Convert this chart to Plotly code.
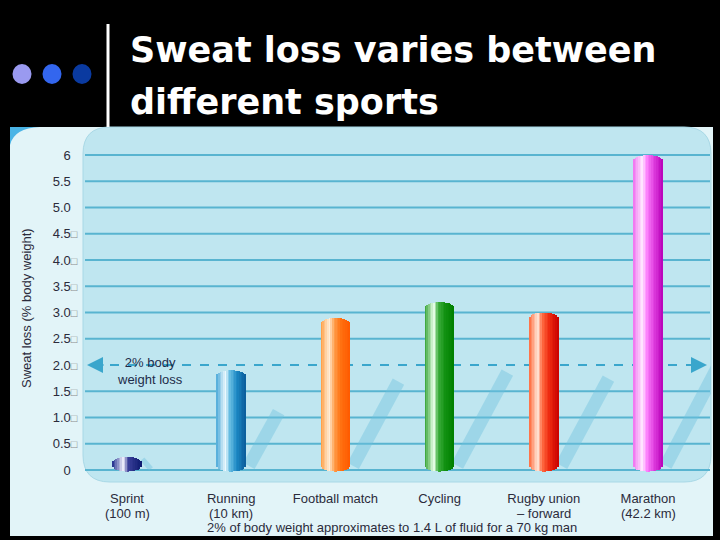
import math
import plotly.graph_objects as go

# ---------------- data ----------------
categories = ["Sprint<br>(100 m)", "Running<br>(10 km)", "Football match",
              "Cycling", "Rugby union<br>\u2013 forward", "Marathon<br>(42.2 km)"]
sweat_loss = [0.25, 1.9, 2.9, 3.2, 3.0, 6.0]
y_tick_values = [0, 0.5, 1.0, 1.5, 2.0, 2.5, 3.0, 3.5, 4.0, 4.5, 5.0, 5.5, 6]
y_tick_numbers = ["0", "0.5", "1.0", "1.5", "2.0", "2.5", "3.0", "3.5", "4.0", "4.5", "5.0", "5.5", "6"]
y_tick_has_box = [False, True, True, True, True, True, True, True, True, True, False, False, False]
threshold_value = 2.0
threshold_label = "2% body<br>weight loss"
y_title = "Sweat loss (% body weight)"
footnote = "2% of body weight approximates to 1.4 L of fluid for a 70 kg man"
title_lines = ["Sweat loss varies between", "different sports"]

# ---------------- styles ----------------
bar_gradients = [
    [(0, "#1c2a8c"), (0.38, "#f4f4ff"), (0.55, "#3a3f9a"), (1, "#0d1a6e")],
    [(0, "#4aa8d8"), (0.3, "#f0fbff"), (0.45, "#6cc0e4"), (0.7, "#1c88c4"), (1, "#0a5c9a")],
    [(0, "#ff9a3c"), (0.3, "#fff0dc"), (0.45, "#ffa050"), (0.7, "#ff7010"), (1, "#ff5a00")],
    [(0, "#2fa02f"), (0.3, "#e8ffe8"), (0.45, "#40b040"), (0.7, "#109010"), (1, "#008000")],
    [(0, "#ff6a3c"), (0.3, "#ffe4d4"), (0.45, "#ff6a40"), (0.7, "#ee2a10"), (1, "#c80000")],
    [(0, "#f070f0"), (0.3, "#ffe8ff"), (0.45, "#ff88ff"), (0.7, "#e040e0"), (1, "#b800b8")],
]
BAR_W = 0.28
N_STRIPES = 18
CAP = 0.12
TEXT = "#2b2b3b"
FONT = "Liberation Sans, Arial, sans-serif"

# plot-area geometry (pixels)
L, R, T, B = 83, 711, 127, 482
W_PX, H_PX = 720, 540


def xp(px):
    return (px - L) / (R - L)


def yp(py):
    return (B - py) / (B - T)


def hex2rgb(h):
    h = h.lstrip("#")
    return tuple(int(h[i:i + 2], 16) for i in (0, 2, 4))


def grad(stops, t):
    for (t0, c0), (t1, c1) in zip(stops, stops[1:]):
        if t0 <= t <= t1:
            f = (t - t0) / (t1 - t0) if t1 > t0 else 0
            a, b = hex2rgb(c0), hex2rgb(c1)
            return "rgb(%d,%d,%d)" % tuple(round(a[i] + (b[i] - a[i]) * f) for i in range(3))
    return stops[-1][1]


fig = go.Figure()
xs = list(range(len(categories)))
sw = BAR_W / N_STRIPES
for k in range(N_STRIPES):
    t = (k + 0.5) / N_STRIPES
    u = 2 * t - 1
    drop = CAP * (1 - math.sqrt(max(0.0, 1 - u * u)))
    bases = [-0.03 + drop for v in sweat_loss]
    tops = [v - drop for v in sweat_loss]
    heights = [max(0.0, tp - bs) for tp, bs in zip(tops, bases)]
    fig.add_trace(go.Bar(
        x=xs, y=heights, base=bases,
        width=sw * 1.25, offset=-BAR_W / 2 + k * sw - sw * 0.125,
        marker=dict(color=[grad(g, t) for g in bar_gradients], line=dict(width=0)),
        showlegend=False, hoverinfo="skip"))

shapes = []
# outer light panel
shapes.append(dict(type="rect", xref="paper", yref="paper",
                   x0=xp(10), x1=xp(713), y0=yp(536), y1=yp(127),
                   fillcolor="#e2f4f8", line=dict(width=0), layer="below"))
shapes.append(dict(type="path", xref="paper", yref="paper",
                   path="M %f %f L %f %f Q %f %f %f %f L %f %f Z" % (
                       xp(10), yp(127), xp(40), yp(127), xp(14), yp(128), xp(10), yp(145),
                       xp(10), yp(127)),
                   fillcolor="#4ab4e6", line=dict(width=0), layer="below"))
# inner rounded panel
rx, ry = 27, 27
x0, x1, y0, y1 = L, R, T, B
path = ("M %f %f L %f %f Q %f %f %f %f L %f %f Q %f %f %f %f "
        "L %f %f Q %f %f %f %f L %f %f Q %f %f %f %f Z") % (
    xp(x0 + rx), yp(y0), xp(x1 - rx), yp(y0), xp(x1), yp(y0), xp(x1), yp(y0 + ry),
    xp(x1), yp(y1 - ry), xp(x1), yp(y1), xp(x1 - rx), yp(y1),
    xp(x0 + rx), yp(y1), xp(x0), yp(y1), xp(x0), yp(y1 - ry),
    xp(x0), yp(y0 + ry), xp(x0), yp(y0), xp(x0 + rx), yp(y0))
shapes.append(dict(type="path", xref="paper", yref="paper", path=path,
                   fillcolor="#bfe6f0", line=dict(color="#a8d8e6", width=1), layer="below"))
# gridlines
for v in y_tick_values:
    if v == threshold_value:
        continue
    shapes.append(dict(type="line", xref="paper", yref="y", x0=xp(L + 2), x1=xp(R - 1), y0=v, y1=v,
                       line=dict(color="#58b4d0", width=2), layer="below"))
# decorative shadows derived from bar values
for i, v in enumerate(sweat_loss):
    shapes.append(dict(type="line", xref="x", yref="y",
                       x0=i + 0.17, y0=0.08, x1=i + 0.17 + 0.15 * v, y1=0.58 * v,
                       line=dict(color="rgba(110,192,222,0.42)", width=13), layer="below"))
# threshold dashed line
shapes.append(dict(type="line", xref="paper", yref="y", x0=xp(92), x1=xp(700),
                   y0=threshold_value, y1=threshold_value,
                   line=dict(color="#3aa6cc", width=2, dash="dash"), layer="below"))
# header decorations
for cx, col in zip([22, 52, 82], ["#9a9af0", "#3366ee", "#0a3aa0"]):
    shapes.append(dict(type="circle", xref="paper", yref="paper",
                       x0=xp(cx - 9.5), x1=xp(cx + 9.5), y0=yp(74 + 10), y1=yp(74 - 10),
                       fillcolor=col, line=dict(width=0)))
shapes.append(dict(type="line", xref="paper", yref="paper", x0=xp(108), x1=xp(108),
                   y0=yp(24), y1=yp(127), line=dict(color="white", width=3)))

annotations = []
for ttl, cy in zip(title_lines, [50, 102]):
    annotations.append(dict(text="<b>%s</b>" % ttl, xref="paper", yref="paper", x=xp(128), y=yp(cy),
                            xanchor="left", yanchor="middle", showarrow=False,
                            font=dict(family="DejaVu Sans", size=35, color="white")))
annotations.append(dict(text=y_title, xref="paper", yref="paper", x=xp(26), y=yp(308),
                        textangle=-90, showarrow=False, xanchor="center", yanchor="middle",
                        font=dict(family=FONT, size=13, color=TEXT)))
annotations.append(dict(text=threshold_label, xref="paper", yref="y", x=xp(150), y=threshold_value - 0.12,
                        showarrow=False, xanchor="center", yanchor="middle",
                        font=dict(family=FONT, size=13, color="#1d2c4a")))
annotations.append(dict(text=footnote, xref="paper", yref="paper", x=xp(392), y=yp(527),
                        showarrow=False, xanchor="center", yanchor="middle",
                        font=dict(family=FONT, size=13, color=TEXT)))
for tip, ax in [(87, 18), (707, -18)]:
    annotations.append(dict(text="", xref="paper", yref="y", x=xp(tip), y=threshold_value,
                            ax=ax, ay=0, showarrow=True, arrowhead=2, arrowsize=1.6,
                            arrowwidth=2, arrowcolor="#3aa6cc"))

# category labels: first line as tick labels, second line placed tighter below
first_lines = [c.split("<br>")[0] for c in categories]
for i, c in enumerate(categories):
    parts = c.split("<br>")
    if len(parts) > 1:
        annotations.append(dict(text=parts[1], xref="x", yref="paper", x=i, y=yp(513),
                                showarrow=False, xanchor="center", yanchor="middle",
                                font=dict(family=FONT, size=13, color=TEXT)))

BOX = "<span style='font-size:11px;color:%s'>\u25a1</span>"
ticktext = [n + (BOX % ("#8a8a8a" if b else "rgba(0,0,0,0)"))
            for n, b in zip(y_tick_numbers, y_tick_has_box)]

fig.update_layout(
    width=W_PX, height=H_PX, template="none",
    margin=dict(l=L, r=W_PX - R, t=T, b=H_PX - B, pad=0),
    paper_bgcolor="black", plot_bgcolor="rgba(0,0,0,0)",
    barmode="overlay", bargap=0, shapes=shapes, annotations=annotations,
    xaxis=dict(range=[(L - 127) / 104.2, (R - 127) / 104.2], tickvals=xs, ticktext=first_lines,
               showgrid=False, zeroline=False, showline=False, ticks="outside", ticklen=4,
               tickcolor="rgba(0,0,0,0)", automargin=False,
               tickfont=dict(family=FONT, size=13, color=TEXT)),
    yaxis=dict(range=[(470 - B) / 52.5, (470 - T) / 52.5], tickvals=y_tick_values, ticktext=ticktext,
               showgrid=False, zeroline=False, showline=False, ticks="outside", ticklen=2,
               tickcolor="rgba(0,0,0,0)", automargin=False,
               tickfont=dict(family=FONT, size=13, color=TEXT)),
)

fig.write_html("out.html", config={"displayModeBar": False},
               post_script="document.body.style.margin='0';")
